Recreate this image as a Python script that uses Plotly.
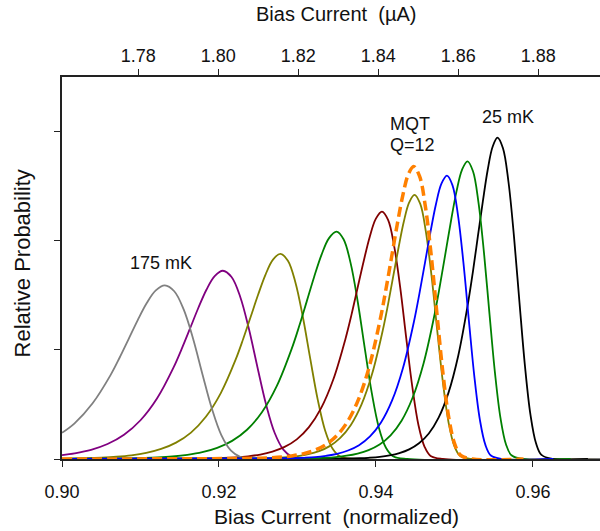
import plotly.graph_objects as go

# ---- data (x: normalized bias current, y: relative probability) ----
gray_x = [0.9000, 0.9016, 0.9039, 0.9062, 0.90735, 0.9085, 0.90965, 0.9108, 0.91195, 0.9131,
          0.9143, 0.9155, 0.9167, 0.9179, 0.9191, 0.9203, 0.9215, 0.9227, 0.9251, 0.9686]
gray_y = [0.240, 0.327, 0.511, 0.771, 0.930, 1.101, 1.273, 1.429, 1.545, 1.590,
          1.537, 1.370, 1.102, 0.775, 0.460, 0.219, 0.079, 0.020, 0.000, 0.000]

purple_x = [0.9000, 0.9016, 0.9037, 0.9058, 0.9079, 0.9100, 0.9121, 0.9142, 0.91525, 0.9163, 0.91735,
            0.9184, 0.91945, 0.9205, 0.9216, 0.9227, 0.9238, 0.9249, 0.9260, 0.9271, 0.9282, 0.9293,
            0.9315, 0.9686]
purple_y = [0.035, 0.052, 0.084, 0.137, 0.222, 0.355, 0.554, 0.837, 1.009, 1.194, 1.381,
            1.551, 1.676, 1.725, 1.667, 1.487, 1.195, 0.841, 0.499, 0.238, 0.086, 0.021,
            0.000, 0.000]

olive1_x = [0.9000, 0.90123, 0.90313, 0.90503, 0.90693, 0.90883, 0.91073, 0.91263, 0.91453, 0.91643,
            0.91833, 0.92023, 0.92213, 0.92308, 0.92403, 0.92498, 0.92593, 0.92688, 0.92783, 0.92878,
            0.92973, 0.93068, 0.93163, 0.93258, 0.93353, 0.93448, 0.93543, 0.93733, 0.9686]
olive1_y = [0.003, 0.005, 0.008, 0.013, 0.021, 0.034, 0.056, 0.092, 0.150, 0.242,
            0.387, 0.604, 0.912, 1.099, 1.301, 1.505, 1.690, 1.827, 1.880, 1.817,
            1.620, 1.303, 0.917, 0.544, 0.259, 0.093, 0.023, 0.000, 0.000]

green1_x = [0.9000, 0.90837, 0.91027, 0.91217, 0.91407, 0.91597, 0.91787, 0.91977, 0.92167, 0.92357,
            0.92547, 0.92737, 0.92927, 0.93022, 0.93117, 0.93212, 0.93307, 0.93402, 0.93497, 0.93587,
            0.93677, 0.93767, 0.93857, 0.93947, 0.94037, 0.94127, 0.94217, 0.94397, 0.9686]
green1_y = [0.000, 0.005, 0.009, 0.014, 0.023, 0.038, 0.062, 0.102, 0.166, 0.268,
            0.428, 0.669, 1.011, 1.218, 1.442, 1.668, 1.873, 2.024, 2.083, 2.013,
            1.795, 1.443, 1.016, 0.603, 0.287, 0.103, 0.026, 0.000, 0.000]

darkred_x = [0.9000, 0.91906, 0.92061, 0.92216, 0.92371, 0.92526, 0.92681, 0.92836, 0.92991, 0.93146,
             0.93301, 0.93456, 0.93611, 0.93689, 0.93766, 0.93844, 0.93921, 0.93999, 0.94076, 0.94154,
             0.94231, 0.94309, 0.94386, 0.94464, 0.94541, 0.94619, 0.94696, 0.94851, 0.9686]
darkred_y = [0.000, 0.006, 0.009, 0.015, 0.025, 0.041, 0.068, 0.111, 0.180, 0.292,
             0.466, 0.728, 1.100, 1.325, 1.569, 1.814, 2.037, 2.202, 2.266, 2.190,
             1.953, 1.570, 1.105, 0.656, 0.312, 0.112, 0.028, 0.000, 0.000]

olive2_x = [0.9000, 0.9260, 0.92735, 0.9287, 0.93005, 0.9314, 0.93275, 0.9341, 0.93545, 0.9368,
            0.93815, 0.9395, 0.94085, 0.94153, 0.9422, 0.94288, 0.94355, 0.94423, 0.9449, 0.94563,
            0.94635, 0.94708, 0.9478, 0.94853, 0.94925, 0.94998, 0.9507, 0.95215, 0.9686]
olive2_y = [0.000, 0.006, 0.010, 0.016, 0.027, 0.044, 0.072, 0.118, 0.193, 0.312,
            0.498, 0.778, 1.174, 1.415, 1.675, 1.938, 2.176, 2.351, 2.420, 2.339,
            2.086, 1.677, 1.180, 0.700, 0.334, 0.120, 0.030, 0.000, 0.000]

blue_x = [0.9000, 0.92944, 0.93084, 0.93224, 0.93364, 0.93504, 0.93644, 0.93784, 0.93924, 0.94064,
          0.94204, 0.94344, 0.94484, 0.94554, 0.94624, 0.94694, 0.94764, 0.94834, 0.94904, 0.94974,
          0.95044, 0.95114, 0.95184, 0.95254, 0.95324, 0.95394, 0.95464, 0.95604, 0.9626]
blue_y = [0.000, 0.007, 0.011, 0.017, 0.029, 0.047, 0.078, 0.127, 0.207, 0.334,
          0.534, 0.834, 1.260, 1.518, 1.797, 2.078, 2.334, 2.522, 2.596, 2.509,
          2.237, 1.799, 1.266, 0.751, 0.358, 0.129, 0.032, 0.000, 0.000]

green2_x = [0.9000, 0.93206, 0.93346, 0.93486, 0.93626, 0.93766, 0.93906, 0.94046, 0.94186, 0.94326,
            0.94466, 0.94606, 0.94746, 0.94816, 0.94886, 0.94956, 0.95026, 0.95096, 0.95166, 0.95236,
            0.95306, 0.95376, 0.95446, 0.95516, 0.95586, 0.95656, 0.95726, 0.95866, 0.9648]
green2_y = [0.000, 0.007, 0.011, 0.018, 0.030, 0.050, 0.082, 0.133, 0.217, 0.351,
            0.561, 0.876, 1.323, 1.595, 1.888, 2.183, 2.452, 2.650, 2.727, 2.636,
            2.350, 1.889, 1.330, 0.789, 0.376, 0.135, 0.034, 0.000, 0.000]

black_x = [0.9000, 0.93798, 0.93923, 0.94048, 0.94173, 0.94298, 0.94423, 0.94548, 0.94673, 0.94798,
           0.94923, 0.95048, 0.95173, 0.95236, 0.95298, 0.95361, 0.95423, 0.95486, 0.95548, 0.95618,
           0.95688, 0.95758, 0.95828, 0.95898, 0.95968, 0.96038, 0.96108, 0.96248, 0.9670]
black_y = [0.000, 0.007, 0.012, 0.020, 0.033, 0.054, 0.088, 0.144, 0.234, 0.379,
           0.606, 0.946, 1.429, 1.722, 2.039, 2.358, 2.648, 2.861, 2.945, 2.847,
           2.538, 2.040, 1.436, 0.852, 0.406, 0.146, 0.037, 0.000, 0.000]

mqt_x = [0.9000, 0.9252, 0.9266, 0.9280, 0.9294, 0.9308, 0.9322, 0.9336, 0.9350, 0.9364,
         0.9378, 0.9392, 0.9406, 0.9413, 0.9420, 0.9427, 0.9434, 0.9441, 0.9448, 0.94555,
         0.9463, 0.94705, 0.9478, 0.94855, 0.9493, 0.95005, 0.9508, 0.9523, 0.9588]
mqt_y = [0.000, 0.007, 0.011, 0.018, 0.030, 0.049, 0.080, 0.131, 0.213, 0.345,
         0.551, 0.861, 1.300, 1.567, 1.855, 2.146, 2.409, 2.604, 2.680, 2.591,
         2.310, 1.857, 1.307, 0.775, 0.369, 0.133, 0.033, 0.000, 0.000]

x_ticks = [0.90, 0.92, 0.94, 0.96]
top_ticks = [1.78, 1.80, 1.82, 1.84, 1.86, 1.88]
y_ticks = [0, 1, 2, 3]
x_range = [0.9, 0.96854]
top_range = [1.76095, 1.89545]

FONT = "Liberation Sans, Arial, sans-serif"

series = [
    (purple_x, purple_y, "#800080"),
    (olive1_x, olive1_y, "#808000"),
    (green1_x, green1_y, "#008000"),
    (darkred_x, darkred_y, "#800000"),
    (olive2_x, olive2_y, "#808000"),
    (gray_x, gray_y, "#808080"),
    (black_x, black_y, "#000000"),
    (green2_x, green2_y, "#008000"),
    (blue_x, blue_y, "#0000FF"),
]

fig = go.Figure()
for xs, ys, col in series:
    fig.add_trace(go.Scatter(x=xs, y=ys, mode="lines",
                             line=dict(color=col, width=1.8, shape="spline", smoothing=1.0),
                             showlegend=False, hoverinfo="skip"))
fig.add_trace(go.Scatter(x=mqt_x, y=mqt_y, mode="lines",
                         line=dict(color="#FF8000", width=3.5, dash="10px,5px", shape="spline", smoothing=1.0),
                         showlegend=False, hoverinfo="skip"))
# invisible trace to activate top axis
fig.add_trace(go.Scatter(x=top_range, y=[None, None], xaxis="x2", mode="lines",
                         showlegend=False, hoverinfo="skip"))

axis_col = "#222222"
fig.update_layout(
    width=600, height=531,
    margin=dict(l=62, r=0, t=77, b=72),
    paper_bgcolor="white", plot_bgcolor="white",
    font=dict(family=FONT, color="#111111", size=18),
    xaxis=dict(range=x_range, tickvals=x_ticks, ticktext=[f"{v:.2f}" for v in x_ticks],
               showline=True, linecolor=axis_col, linewidth=1.5, ticks="outside",
               ticklen=6, tickcolor=axis_col, showgrid=False, zeroline=False,
               tickfont=dict(size=18), ticklabelstandoff=10),
    xaxis2=dict(range=top_range, overlaying="x", side="top", tickvals=top_ticks,
                ticktext=[f"{v:.2f}" for v in top_ticks],
                showline=True, linecolor=axis_col, linewidth=1.5, ticks="outside",
                ticklen=6, tickcolor=axis_col, showgrid=False, zeroline=False,
                tickfont=dict(size=18)),
    yaxis=dict(range=[0, 3.5], tickvals=y_ticks, showticklabels=False,
               showline=True, linecolor=axis_col, linewidth=1.5, ticks="outside",
               ticklen=6, tickcolor=axis_col, showgrid=False, zeroline=False),
    annotations=[
        dict(text="Bias Current  (normalized)", xref="paper", yref="paper", x=0.511, y=-0.150,
             showarrow=False, font=dict(size=21), xanchor="center", yanchor="middle"),
        dict(text="Bias Current  (\u00b5A)", xref="paper", yref="paper", x=0.509, y=1.165,
             showarrow=False, font=dict(size=20), xanchor="center", yanchor="middle"),
        dict(text="Relative Probability", xref="paper", yref="paper", x=-0.0743, y=0.512,
             showarrow=False, font=dict(size=22), textangle=-90, xanchor="center", yanchor="middle"),
        dict(text="175 mK", x=0.91255, y=1.80, showarrow=False, font=dict(size=18),
             xanchor="center", yanchor="middle"),
        dict(text="25 mK", x=0.95688, y=3.13, showarrow=False, font=dict(size=18),
             xanchor="center", yanchor="middle"),
        dict(text="MQT", x=0.94159, y=3.07, showarrow=False, font=dict(size=18),
             xanchor="left", yanchor="middle"),
        dict(text="Q=12", x=0.94159, y=2.88, showarrow=False, font=dict(size=18),
             xanchor="left", yanchor="middle"),
    ],
)

fig.write_html("out.html")
